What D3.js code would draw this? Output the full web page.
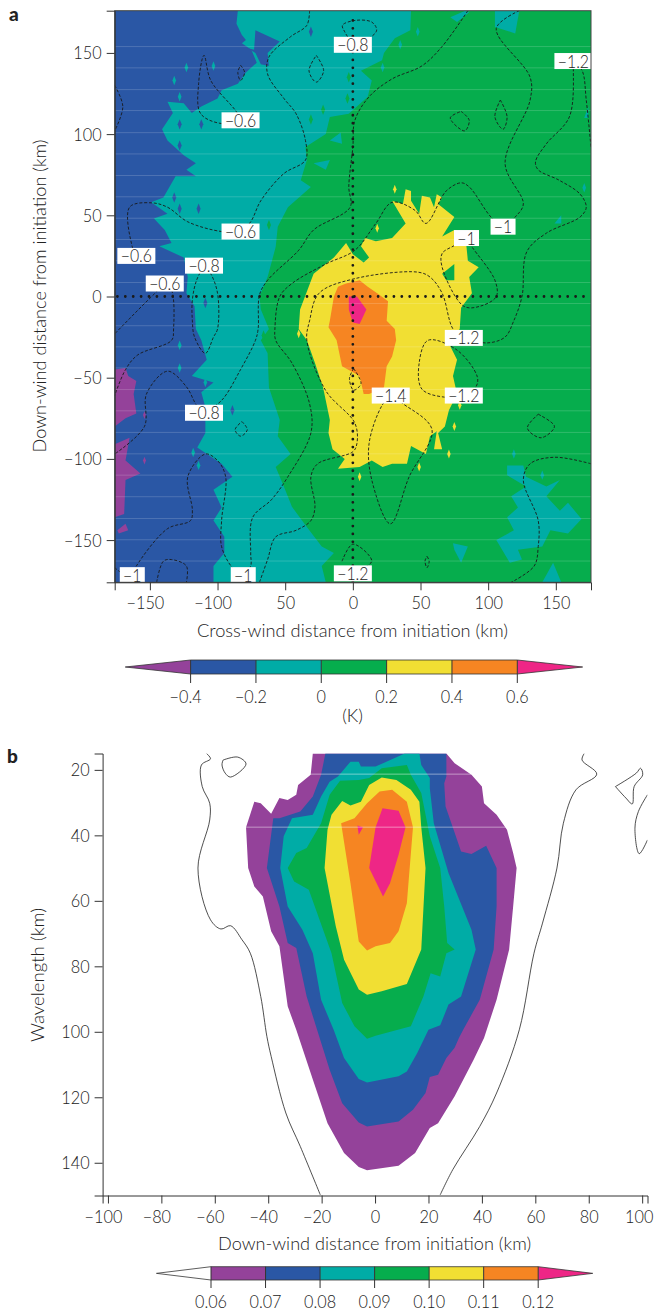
<!DOCTYPE html>
<html>
<head>
<meta charset="utf-8">
<script src="https://cdn.jsdelivr.net/npm/d3@7"></script>
<style>
  html, body { margin: 0; padding: 0; background: #fff; }
  svg { display: block; }
  text { font-family: Lato, "Open Sans", sans-serif; font-weight: 300; fill: #222; }
</style>
</head>
<body>
<div id="chart"></div>
<script>
// Colours shared by both panels
const purple = "#94429a", blue = "#2a57a5", teal = "#00aca6", green = "#06ad4d",
      yellow = "#f1df33", orange = "#f68522", pink = "#ee2686";

// ---- Panel a data (km) ----
const aTicksX = [-150, -100, -50, 0, 50, 100, 150];
const aTickLabelsX = ["−150", "−100", "50", "0", "50", "100", "150"];
const aTicksY = [-150, -100, -50, 0, 50, 100, 150];

const aTeal = [[43,176],[42.5,164],[31,159],[23,150],[21.6,145.5],[6,139],[14,133],[11,123],[-3,112.6],[-17,110.6],[-20,100],[-35,92],[-34,84],[-38.5,71.6],[-31,67.5],[-48,55],[-55.5,43],[-57,30.6],[-63,12],[-69,0],[-68,-8],[-62,-20],[-68,-27],[-63,-35],[-62,-56],[-54,-76],[-55.5,-86],[-46,-97],[-57,-105],[-51,-117],[-45,-129.5],[-34,-142],[-23,-154],[-14,-158],[-23,-166],[-20,-176],[-176,-176],[-176,176]];
const aBlue = [[-85,176],[-86,168],[-82,161],[-79,158],[-82,156],[-75,152],[-71,144],[-79,138],[-85,131],[-97,127],[-100,122],[-112,117],[-119,113],[-125,119],[-137,120],[-133,113],[-141,103],[-137,96],[-125,87],[-116,82],[-123,78],[-116,74],[-131,74],[-140,61],[-149,58],[-137,51],[-147,48],[-139,41],[-134,33],[-143,31],[-125,24],[-122,12],[-123,2],[-117,-6],[-116,-20],[-112,-27],[-108,-39],[-119,-49],[-103,-53],[-112,-59],[-109,-68],[-109,-84],[-115,-93],[-97,-103],[-89,-111],[-103,-119],[-97,-130],[-103,-138],[-95,-148],[-95,-158],[-103,-166],[-103,-176],[-176,-176],[-176,176]];
const aBlue2 = [[-72,164],[-54,157],[-63,150],[-62,142],[-68,143],[-72,150],[-78,153],[-73,152]];
const aPurple = [
  [[-176,-45],[-168,-44],[-166,-49],[-160,-52],[-162,-60],[-160,-72],[-168,-75],[-176,-80]],
  [[-176,-91],[-165,-87],[-168,-101],[-157,-109],[-168,-113],[-169,-134],[-176,-136]],
  [[-174,-144],[-168,-140],[-166,-144],[-173,-146]]
];
const aYellow = [[29,59],[37,57],[39,66],[43,65],[43,59],[49,51],[51,62],[57,61],[60,55],[62,63],[66,61],[63,57],[75,49],[66,37],[75,41],[83,39],[85,22],[93,18],[86,12],[88,2],[80,-7],[79,-20],[71,-29],[77,-39],[74,-49],[77,-60],[71,-70],[68,-80],[63,-84],[66,-94],[60,-94],[62,-83],[57,-86],[54,-97],[43,-92],[40,-103],[29,-103],[22,-105],[14,-101],[5,-105],[-11,-106],[-6,-100],[-15,-94],[-18,-84],[-17,-76],[-22,-56],[-28,-41],[-34,-27],[-40,-20],[-39,-8],[-29,14],[-14,24],[-5,33],[0,26],[8,21],[12,24],[6,31],[9,36],[17,34],[29,36],[39,45]];
const aGreenHole = [[66,14],[75,20],[75,10],[69,10]];
const aOrange = [[-5,8],[5,10],[11,6],[18,2],[26,-3],[25,-15],[31,-20],[32,-27],[29,-37],[25,-43],[23,-56],[12,-60],[8,-60],[5,-49],[-8,-43],[-12,-27],[-18,-19],[-17,-15],[-14,0],[-11,6]];
const aPink = [[-3,0],[3,0],[10,-8],[5,-17],[0,-16],[-3,-8]];
const aTealPatches = [
  [[114,-104],[126,-104],[128,-111],[143,-117],[153,-113],[143,-123],[153,-132],[159,-127],[169,-137],[159,-146],[146,-144],[140,-154],[122,-156],[125,-162],[116,-164],[106,-150],[119,-144],[114,-136],[122,-130],[117,-123],[128,-117],[114,-110]],
  [[74,-152],[85,-154],[80,-164],[75,-156]],
  [[140,-176],[148,-164],[154,-176]],
  [[105,176],[123,176],[120,162],[105,166]],
  [[72,172],[83,176],[86,175],[77,169]],
  [[149,45],[154,50],[154,45]],
  [[171,110],[174,117],[174,110]],
  [[-29,82],[-17,84],[-20,78]],
  [[-17,96],[-9,101],[-8,94]]
];
// single specks of a colour on top of the neighbouring band
const aBlueSpecks = [[-31,163],[-83,138],[-112,106],[-128,106],[-128,93],[-114,54],[-132,61],[-128,54],[-109,-4],[-89,-70]];
const aTealSpecks = [[-128,123],[-132,133],[-123,141],[-103,142],[-128,-30],[-128,-44],[-109,-53],[-114,-104],[-118,-96],[22,141],[48,163],[35,155],[119,-97],[140,-110],[171,67]];
const aGreenSpecks = [[-3,135],[-4,122],[-22,115],[-31,109],[-62,44],[-66,-24],[71,-51]];
const aYellowSpecks = [[31,66],[18,42],[-40,-23],[71,-97],[49,-105],[5,-111],[75,-80],[79,-67]];
// thin pale scan lines that cross the map
const aSeams = [153.9,140.8,127.4,114.5,100.9,87.8,74.5,61.4,48.2,35.1,22,8.6,-4.3,-18,-31,-44,-57.3,-70.4,-83.7,-96.9,-110,-123.3,-136.7,-149.8,-162.9];

const aContours = [
  [[-32,176],[-34,167],[-46,160],[-62,147.5],[-63,137],[-51,122],[-42,112.6],[-35,96],[-35,84],[-51,75.7],[-68,59],[-75.5,46],[-83,40],[-97,40],[-122,46],[-137,55],[-149,57.7],[-165,55],[-163,30.6],[-160,25]],
  [[-139,8],[-145,3],[-156,-6],[-176,-23]],
  [[-139,8],[-134,4],[-132.5,-20],[-134,-27],[-159,-36],[-168,-45],[-176,-61]],
  [[-176,130],[-170,117],[-176,102]],
  [[-83,108.5],[-97,106.5],[-112.5,112.6],[-114,131],[-110,148.5],[-105,133],[-86,113.7],[-83,108.5]],
  [[-83,142.4],[-80,138],[-83,133],[-85,138],[-83,142.4]],
  [[-27,148.5],[-21.6,139],[-27,132],[-32.4,139],[-27,148.5]],
  [[0,155],[-6,163],[-7.7,167],[1.5,170],[14,169],[17.6,164],[12,159],[0,155]],
  [[85,176],[66,154],[51,142],[29,134],[12,123],[1.5,108.5],[0,92],[-3,67.5],[-2,55],[-29,41],[-40,28.5],[-63,10],[-69,1],[-70,-20],[-72,-27],[-83,-45],[-97,-64],[-110,-71.6]],
  [[-110,19],[-105,14],[-100,2],[-100,-20],[-103,-25],[-109,-35],[-117,-25],[-118.6,-15],[-118.6,-2],[-115.5,10],[-110,19]],
  [[123,176],[106,165],[131,135],[131,121],[112.5,82],[126,57],[120,49],[111,43],[102,49],[86,67.5],[80,70],[69,65],[54,45],[46,53],[29,58],[17,45],[1.5,28.5],[-20,20],[-45,8],[-54,0],[-57.6,-20],[-57,-27],[-45,-41],[-32,-66],[-31,-84],[-48,-111],[-60,-125],[-74,-136],[-75.5,-158],[-75.5,-166],[-81,-171.6]],
  [[84,36],[75.5,31.6],[66,26.5],[66,18],[82,-6],[94,-6],[106,0],[105,10],[88,30.6],[84,36]],
  [[109,121],[114,110.6],[111,103],[105,110.6],[109,121]],
  [[80,114],[86,108.5],[82.6,102],[72,110],[80,114]],
  [[82,-25.5],[74,-20],[66,2],[57,12],[48,15],[1.5,11],[-25,2],[-32,-15],[-34,-27],[-20,-58],[1.5,-78],[3,-90.5],[0,-95.6],[-26,-103],[-31,-111],[-28,-129.5],[-31,-138],[-42,-144],[-57,-148],[-63,-162],[-69,-176]],
  [[82,-25.5],[99,-28.6],[112.5,-25],[118.6,-15.6],[125,0],[128.5,27.5],[143,39],[168,49],[172.5,55],[168,63],[152.5,71.6],[137,78],[135,83],[143,94],[160,110.6],[163,141],[163,145]],
  [[163,145],[169.5,139],[172.5,121],[176,92]],
  [[82,-61],[68,-62],[51,-57],[49,-41],[55.5,-27],[77,-33],[92,-49.5],[91,-55.6],[82,-61]],
  [[28,-61],[21.6,-67],[12,-90.5],[14,-113],[27.7,-140],[41.6,-111],[58.5,-82],[37,-66],[28,-61]],
  [[0.6,-44.4],[6,-53.6],[0.6,-57.7],[-2.5,-50.5],[0.6,-44.4]],
  [[-82,-77],[-78,-82],[-83,-86],[-87,-82],[-82,-77]],
  [[137,-72.5],[149,-80],[139,-87],[129,-81],[137,-72.5]],
  [[176,-103],[149,-99],[131,-103],[126,-113],[137,-138],[137,-154],[134,-166],[117,-176]],
  [[-176,-167],[-166,-172.6],[-163,-171.6]],
  [[-163,-171.6],[-160,-166],[-137,-143],[-120,-138],[-118.6,-131.5],[-122,-111],[-109,-97],[-100,-101],[-94,-111],[-97,-138],[-97,-154],[-89,-167],[-81,-171.6]],
  [[-110,-71.6],[-115.5,-67],[-123,-55.6],[-137,-46],[-152.5,-60],[-154,-80],[-176,-97]],
  [[-145,-176],[-140,-163],[-134,-162],[-123,-166],[-123,-176]],
  [[-8,-163],[0,-152.5],[14,-163],[0,-170]],
  [[54.8,-160],[56.4,-163],[54.8,-167],[53.3,-163],[54.8,-160]]
];
const aLabels = ["−0.8","−1.2","−0.6","−0.6","−1","−1","−0.6","−0.8","−0.6","−1.2","−1.4","−1.2","−0.8","−1","−1","−1.2"];
const aLabelX = [0,163,-83,-83,111,84,-160,-110,-139,82,28,82,-110,-163,-81,0];
const aLabelY = [155,145,108.5,40,43,36,25,19,8,-25.5,-61,-61,-71.6,-171.6,-171.6,-170.5];
const aBarValues = [-0.4,-0.2,0,0.2,0.4,0.6];
const aBarLabels = ["−0.4","−0.2","0","0.2","0.4","0.6"];
const aBarColors = [blue, teal, green, yellow, orange];

// ---- Panel b data (km) ----
const bTicksX = [-100,-80,-60,-40,-20,0,20,40,60,80,100];
const bTicksY = [20,40,60,80,100,120,140];
const bPurple = [[-23.3,15],[26.7,15],[29.8,18],[36.1,21.5],[40,25.1],[40.8,30.2],[45.5,33.7],[49.4,38.3],[51.7,45.4],[53,50],[51.7,61.7],[50.2,74.9],[45.5,90.2],[40.8,101.9],[36.9,108.5],[29.8,119.7],[26.7,123.8],[23.6,127.9],[20.5,129.4],[15,137],[8.8,140.9],[-3,142.3],[-6.1,141.3],[-11.6,137],[-17.8,127.9],[-23.3,114.6],[-29.5,99.4],[-32.7,92.2],[-35.8,73.9],[-38.9,69.3],[-42,58.7],[-45.2,55.6],[-47.5,50],[-48.3,37.5],[-45.2,29.7],[-42.8,30.2],[-38.9,33.4],[-35.8,28.6],[-32.7,29.2],[-29.5,27.6],[-28.8,24.6],[-24.1,21.5]];
const bBlue = [[-18.6,15],[26.7,15],[26.7,22],[25.9,24.1],[26.4,31.2],[29,37.3],[32.2,44.9],[36.1,45.7],[41.6,43.2],[45.5,50],[45.5,61.7],[44.4,74.9],[39.2,90.2],[33,99.4],[31.4,101.9],[29.8,104.9],[26.7,108],[23.6,113.1],[20.5,113.8],[18.9,118.7],[14.2,123.8],[8.8,127.4],[-3,128.9],[-6.1,127.7],[-12.3,121.8],[-17,111.6],[-21.7,99.4],[-25.6,89.2],[-29.5,74.4],[-32.7,72.9],[-35.8,61.7],[-40.5,50],[-38.1,34.8],[-35.8,34.8],[-28,32.7],[-23.3,28.1],[-20.2,21.5]];
const bTeal = [[-13.9,22],[-9.2,17.5],[-6.1,17.5],[-5.3,19],[0.2,19],[11.1,15],[16.6,15],[17.3,18.5],[20.5,22.5],[20.5,25.6],[22,36.3],[27.5,51.5],[36.1,68.8],[37.7,74.9],[32.2,89.2],[27.5,91.7],[24.4,98],[20,99.4],[15.8,106.5],[11.9,112.1],[8.8,113.6],[-3,115.5],[-6.1,114.4],[-11.6,108],[-15.5,99.4],[-20.2,90.2],[-23.3,76],[-27.2,68.8],[-32.7,61.7],[-35.5,50],[-34.2,40.3],[-31.1,34.8],[-23.3,33.7],[-20.2,28.1],[-17,23.6]];
const bGreen = [[2.5,19.5],[11.9,18.5],[13.4,21.5],[17.3,27.1],[20.5,40.3],[24.4,50],[25.9,61.7],[27,72.9],[29.8,74.9],[26.7,76],[24.4,83.1],[20.8,82.1],[18.1,89.2],[13.4,98.3],[0.2,101.2],[-3,102.1],[-7.7,98.3],[-12.3,91.2],[-16.3,76],[-24.8,56.6],[-30.3,54.1],[-32.7,50],[-29.5,45.4],[-25.6,43.9],[-20.2,36.3],[-17,27.6],[-13.1,23.3],[-6.1,23.1],[-2.2,22.5]];
const bYellow = [[2.5,22.3],[8,23.1],[13.4,26.1],[16.6,29.7],[17.3,37.5],[18.9,50],[17.3,74.9],[11.9,85.4],[2.5,87.6],[-3,88.7],[-6.1,87.1],[-11.6,78],[-14.7,67.8],[-18.9,50],[-17.8,38.3],[-16.3,33.7],[-12.3,29.5],[-9.2,30.9],[-5.3,29.7],[-2.2,24.6]];
const bOrange = [[1.7,26.6],[6.4,26.1],[11.9,29.7],[14.2,37.5],[11.9,60.7],[8.8,69.3],[5.6,72.9],[0.2,73.9],[-3,75.2],[-6.1,72.4],[-9.2,54.6],[-12.7,36.3],[-7.7,34.8],[-3,30.2]];
const bPink = [[2.8,31.7],[8.8,32.5],[11.4,37.5],[8.8,45.9],[5.6,54.6],[3,58.7],[-2.2,50],[0.2,37.5]];
const bPinkSmall = [[-6.6,37],[-4.5,37.5],[-6.1,39.8]];
const bContours = [
  [[-63.1,15],[-61.6,16.6],[-65,18.5],[-64.7,25.1],[-61.9,30.2],[-61.9,35.3],[-66.3,50],[-61.6,65.8],[-57.7,68.6],[-54.1,67.6],[-49.8,71.9],[-46.7,76],[-42.8,89.2],[-40.5,101.4],[-38.9,107.5],[-33.4,124.8],[-28,135],[-20.5,149.8]],
  [[24.4,149.8],[29.1,142.1],[39.2,128.9],[45.5,118.7],[54,99.4],[59.5,76],[62.7,66.8],[68.1,50],[70.5,36.3],[75.2,26.1],[83,21.3],[77.5,17],[78.3,15]],
  [[-56.9,17],[-51.4,16.1],[-48.3,18.2],[-54.1,22.2],[-56.1,21],[-57.3,18.5],[-56.9,17]],
  [[90,25.1],[97.8,21],[99.4,19.5],[100.2,21.5],[97,25.1],[96.3,30.4],[93.9,28.6],[90,25.1]],
  [[102,27.6],[98.6,32.7],[97.3,37.8],[98.9,45.6],[102,41.4]]
];
const bSeamY = [21.3, 37.5];
const bSeamFrom = [-24.8, -48.8];
const bSeamTo = [36.1, 49.4];
const bBarValues = [0.06,0.07,0.08,0.09,0.10,0.11,0.12];
const bBarLabels = ["0.06","0.07","0.08","0.09","0.10","0.11","0.12"];
const bBarColors = [purple, blue, teal, green, yellow, orange];

const W = 654, H = 1311;
const svg = d3.select("#chart").append("svg").attr("width", W).attr("height", H);

function polys(g, x, y, list, fill) {
  const line = d3.line().x(d => x(d[0])).y(d => y(d[1]));
  g.selectAll(null).data(list).join("path")
    .attr("d", d => line(d) + "Z").attr("fill", fill);
}

function specks(g, x, y, list, fill, size) {
  const sym = d3.symbol().type(d3.symbolDiamond).size(size);
  g.selectAll(null).data(list).join("path")
    .attr("d", sym).attr("fill", fill)
    .attr("transform", d => `translate(${x(d[0])},${y(d[1])}) scale(0.8,1.2)`);
}

// The reference face is narrower than Lato, so squeeze the glyphs a little
function narrow(sel, k) {
  sel.each(function() {
    d3.select(this).attr("textLength", this.getComputedTextLength() * k).attr("lengthAdjust", "spacingAndGlyphs");
  });
}

function styleAxis(sel) {
  sel.selectAll("path.domain").attr("stroke", "#333").attr("stroke-width", 1);
  sel.selectAll(".tick line").attr("stroke", "#333").attr("stroke-width", 1);
  sel.selectAll("text").style("font-family", "Lato, sans-serif").style("font-size", "18.5px").style("fill", "#222").call(narrow, 0.88);
}

function frame(g, x, y) {
  g.append("rect").attr("x", x.range()[0]).attr("y", y.range()[1])
    .attr("width", x.range()[1] - x.range()[0]).attr("height", y.range()[0] - y.range()[1])
    .attr("fill", "none").attr("stroke", "#444").attr("stroke-width", 1);
}

// ---- Panel a ----
const ax = d3.scaleLinear().domain([-176, 176]).range([114.7, 591]);
const ay = d3.scaleLinear().domain([-176, 176]).range([582.3, 10.7]);

svg.append("clipPath").attr("id", "clipA").append("rect")
  .attr("x", ax(-176)).attr("y", ay(176)).attr("width", ax(176) - ax(-176)).attr("height", ay(-176) - ay(176));

const pa = svg.append("g").attr("clip-path", "url(#clipA)");
pa.append("rect").attr("x", ax(-176)).attr("y", ay(176)).attr("width", ax(176) - ax(-176)).attr("height", ay(-176) - ay(176)).attr("fill", green);
polys(pa, ax, ay, [aTeal], teal);
polys(pa, ax, ay, aTealPatches, teal);
specks(pa, ax, ay, aGreenSpecks, green, 22);
polys(pa, ax, ay, [aBlue, aBlue2], blue);
specks(pa, ax, ay, aBlueSpecks, blue, 22);
specks(pa, ax, ay, aTealSpecks, teal, 18);
polys(pa, ax, ay, aPurple, purple);
specks(pa, ax, ay, [[-154,-101],[-154,-73]], purple, 12);
polys(pa, ax, ay, [aYellow], yellow);
specks(pa, ax, ay, aYellowSpecks, yellow, 16);
polys(pa, ax, ay, [aGreenHole], green);
polys(pa, ax, ay, [aOrange], orange);
polys(pa, ax, ay, [aPink], pink);

// pale scan lines
pa.selectAll(null).data(aSeams).join("line")
  .attr("x1", ax(-176)).attr("x2", ax(176))
  .attr("y1", d => ay(d)).attr("y2", d => ay(d))
  .attr("stroke", "#fff").attr("stroke-opacity", 0.17).attr("stroke-width", 1);

// dotted cross through the initiation point
const dotted = d3.line().x(d => ax(d[0])).y(d => ay(d[1]));
pa.selectAll(null).data([[[-174, 0], [174, 0]], [[0, 170], [0, -176]]]).join("path")
  .attr("d", dotted).attr("fill", "none").attr("stroke", "#1a1a1a")
  .attr("stroke-width", 2.8).attr("stroke-linecap", "round").attr("stroke-dasharray", "0,7.9");

const contourLine = d3.line().x(d => ax(d[0])).y(d => ay(d[1])).curve(d3.curveCatmullRom.alpha(0.5));
pa.selectAll(null).data(aContours).join("path")
  .attr("d", contourLine).attr("fill", "none").attr("stroke", "#1a1a1a")
  .attr("stroke-width", 0.9).attr("stroke-dasharray", "3,1.8");

// contour labels
const labelG = svg.append("g").selectAll("g").data(aLabels).join("g")
  .attr("transform", (d, i) => `translate(${ax(aLabelX[i])},${ay(aLabelY[i])})`);
labelG.append("rect")
  .attr("x", d => d.length > 2 ? -19 : -12.5).attr("y", -8)
  .attr("width", d => d.length > 2 ? 38 : 25).attr("height", 16).attr("fill", "#fff");
labelG.append("text").attr("text-anchor", "middle").attr("dy", "0.36em")
  .style("font-size", "18px").text(d => d).call(narrow, 0.88);

frame(svg, ax, ay);

const axA = svg.append("g").attr("transform", `translate(0,${ay(-176)})`)
  .call(d3.axisBottom(ax).tickValues(aTicksX).tickFormat((d, i) => aTickLabelsX[i]).tickSize(8).tickPadding(6));
axA.call(styleAxis);
axA.selectAll("text").attr("dx", (d, i) => aTickLabelsX[i][0] === "−" ? -5 : 0);
const ayA = svg.append("g").attr("transform", `translate(${ax(-176)},0)`)
  .call(d3.axisLeft(ay).tickValues(aTicksY).tickFormat(d => String(d).replace("-", "−")).tickSize(8).tickPadding(5));
ayA.call(styleAxis);

svg.append("text").attr("x", 352.5).attr("y", 637).attr("text-anchor", "middle")
  .attr("textLength", 311).attr("lengthAdjust", "spacingAndGlyphs")
  .style("font-size", "17.5px").text("Cross-wind distance from initiation (km)");
svg.append("text").attr("transform", "translate(46,296) rotate(-90)").attr("text-anchor", "middle")
  .attr("textLength", 313).attr("lengthAdjust", "spacingAndGlyphs")
  .style("font-size", "17.5px").text("Down-wind distance from initiation (km)");

// colour bar helper
function colourBar(values, labels, colors, lo, hi, x0, x1, top, bottom, tickEnd, textY, lowFill, highFill) {
  const c = d3.scaleLinear().domain([values[0], values[values.length - 1]]).range([x0, x1]);
  const last = values[values.length - 1];
  const g = svg.append("g");
  const mid = (top + bottom) / 2;
  g.selectAll(null).data(colors).join("rect")
    .attr("x", (d, i) => c(values[i])).attr("y", top)
    .attr("width", (d, i) => c(values[i + 1]) - c(values[i])).attr("height", bottom - top).attr("fill", d => d);
  const tri = d3.line();
  g.append("path").attr("d", tri([[c(values[0]), top], [c(lo), mid], [c(values[0]), bottom]]) + "Z").attr("fill", lowFill);
  g.append("path").attr("d", tri([[c(last), top], [c(hi), mid], [c(last), bottom]]) + "Z").attr("fill", highFill);
  g.append("path").attr("d", tri([[c(lo), mid], [c(values[0]), top], [c(last), top], [c(hi), mid], [c(last), bottom], [c(values[0]), bottom]]) + "Z")
    .attr("fill", "none").attr("stroke", "#333").attr("stroke-width", 0.8);
  g.selectAll(null).data(values).join("line")
    .attr("x1", d => c(d)).attr("x2", d => c(d)).attr("y1", top).attr("y2", tickEnd)
    .attr("stroke", "#333").attr("stroke-width", 1);
  g.selectAll(null).data(labels).join("text")
    .attr("x", (d, i) => c(values[i]) - (d[0] === "−" ? 5 : 0)).attr("y", textY)
    .attr("text-anchor", "middle").style("font-size", "18px").text(d => d).call(narrow, 0.9);
}

colourBar(aBarValues, aBarLabels, aBarColors, -0.6, 0.8, 190.6, 517.3, 660, 674, 683, 702.5, purple, pink);
svg.append("text").attr("x", 352.5).attr("y", 722).attr("text-anchor", "middle").style("font-size", "18px").text("(K)");

// ---- Panel b ----
const bx = d3.scaleLinear().domain([-102, 102]).range([102.6, 647.5]);
const by = d3.scaleLinear().domain([15, 150]).range([753.5, 1195.5]);

svg.append("clipPath").attr("id", "clipB").append("rect")
  .attr("x", bx(-102)).attr("y", by(15)).attr("width", bx(102) - bx(-102)).attr("height", by(150) - by(15));
const pb = svg.append("g").attr("clip-path", "url(#clipB)");
polys(pb, bx, by, [bPurple], purple);
polys(pb, bx, by, [bBlue], blue);
polys(pb, bx, by, [bTeal], teal);
polys(pb, bx, by, [bGreen], green);
polys(pb, bx, by, [bYellow], yellow);
polys(pb, bx, by, [bOrange], orange);
polys(pb, bx, by, [bPink, bPinkSmall], pink);

pb.selectAll(null).data(bSeamY).join("line")
  .attr("x1", (d, i) => bx(bSeamFrom[i])).attr("x2", (d, i) => bx(bSeamTo[i]))
  .attr("y1", d => by(d)).attr("y2", d => by(d))
  .attr("stroke", "#fff").attr("stroke-opacity", 0.45).attr("stroke-width", 1);

const bLine = d3.line().x(d => bx(d[0])).y(d => by(d[1])).curve(d3.curveCatmullRom.alpha(0.5));
pb.selectAll(null).data(bContours).join("path")
  .attr("d", bLine).attr("fill", "none").attr("stroke", "#222").attr("stroke-width", 0.8);

frame(svg, bx, by);

const axB = svg.append("g").attr("transform", `translate(0,${by(150)})`)
  .call(d3.axisBottom(bx).tickValues(bTicksX).tickFormat(d => String(d).replace("-", "−")).tickSize(8).tickPadding(6));
axB.call(styleAxis);
// digits sit on the tick, the minus hangs to the left; the last label stays inside the page
axB.selectAll("text").attr("dx", d => d < 0 ? -5 : d === 100 ? -3.5 : 0);
const ayB = svg.append("g").attr("transform", `translate(${bx(-102)},0)`)
  .call(d3.axisLeft(by).tickValues(bTicksY).tickSize(8).tickPadding(5));
ayB.call(styleAxis);

svg.append("text").attr("x", 374.6).attr("y", 1250).attr("text-anchor", "middle")
  .attr("textLength", 313).attr("lengthAdjust", "spacingAndGlyphs")
  .style("font-size", "17.5px").text("Down-wind distance from initiation (km)");
svg.append("text").attr("transform", "translate(44,975) rotate(-90)").attr("text-anchor", "middle")
  .attr("textLength", 134).attr("lengthAdjust", "spacingAndGlyphs")
  .style("font-size", "17.5px").text("Wavelength (km)");

colourBar(bBarValues, bBarLabels, bBarColors, 0.05, 0.13, 211, 538.2, 1266.7, 1280, 1288, 1307.5, "#fff", pink);

// panel letters
svg.append("text").attr("x", 9).attr("y", 21).style("font-size", "19px").style("font-weight", 900).style("fill", "#222").text("a");
svg.append("text").attr("x", 7).attr("y", 763).style("font-size", "19px").style("font-weight", 900).style("fill", "#222").text("b");
</script>
</body>
</html>
